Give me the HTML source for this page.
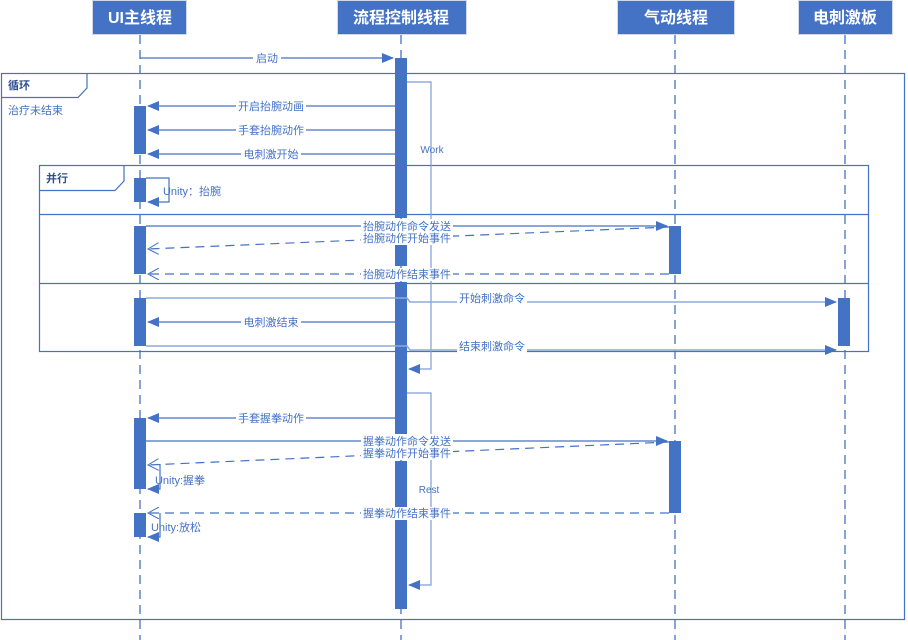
<!DOCTYPE html>
<html><head><meta charset="utf-8"><style>
html,body{margin:0;padding:0;background:#fff;}
svg{display:block;}
text{font-family:"Liberation Sans","Noto Sans CJK SC",sans-serif;}
</style></head><body>
<svg width="908" height="640" viewBox="0 0 908 640" xmlns="http://www.w3.org/2000/svg">
<defs>
<marker id="af" markerWidth="12" markerHeight="10" refX="11" refY="5" orient="auto" markerUnits="userSpaceOnUse"><path d="M0,0 L12,5 L0,10 Z" fill="#4472c4"/></marker>
<marker id="ao" markerWidth="12" markerHeight="12" refX="11" refY="6" orient="auto" markerUnits="userSpaceOnUse"><path d="M0,0 L11,6 L0,12" fill="none" stroke="#4472c4" stroke-width="1"/></marker>
</defs>
<g fill="#4472c4" stroke="#d0d8ea" stroke-width="1">
<rect x="92.5" y="0.5" width="94" height="34"/>
<rect x="337.5" y="0.5" width="129" height="34"/>
<rect x="617.5" y="0.5" width="117" height="34"/>
<rect x="798.5" y="0.5" width="94" height="34"/>
</g>
<g fill="#fff" font-size="16" font-weight="bold" text-anchor="middle">
<text x="140" y="23">UI主线程</text>
<text x="401" y="23">流程控制线程</text>
<text x="676" y="23">气动线程</text>
<text x="845" y="23">电刺激板</text>
</g>
<g stroke="#4472c4" stroke-width="1.3" stroke-dasharray="9,6">
<line x1="140" y1="35" x2="140" y2="640"/>
<line x1="401" y1="35" x2="401" y2="640"/>
<line x1="675" y1="35" x2="675" y2="640"/>
<line x1="845" y1="35" x2="845" y2="640"/>
</g>
<g fill="none" stroke="#4472c4" stroke-width="1.2">
<rect x="1.5" y="73.5" width="903" height="546"/>
<path d="M1.5,97.5 H78 L87,88 V73.5"/>
<rect x="39.5" y="165.5" width="829" height="186"/>
<path d="M39.5,190.5 H115 L124,181 V165.5"/>
<line x1="39.5" y1="214.5" x2="868.5" y2="214.5"/>
<line x1="39.5" y1="283.5" x2="868.5" y2="283.5"/>
</g>
<text x="8" y="89" font-size="11" font-weight="bold" fill="#2f4f8f">循环</text>
<text x="8" y="114" font-size="11" fill="#4472c4">治疗未结束</text>
<text x="46" y="182" font-size="11" font-weight="bold" fill="#2f4f8f">并行</text>
<g fill="#4472c4">
<rect x="395" y="58" width="12" height="160"/>
<rect x="395" y="245" width="12" height="21"/>
<rect x="395" y="282" width="12" height="158"/>
<rect x="395" y="461" width="12" height="46"/>
<rect x="395" y="520" width="12" height="89"/>
<rect x="134" y="106" width="12" height="48"/>
<rect x="134" y="178" width="12" height="24"/>
<rect x="134" y="226" width="12" height="48"/>
<rect x="134" y="298" width="12" height="48"/>
<rect x="134" y="418" width="12" height="71"/>
<rect x="134" y="513" width="12" height="24"/>
<rect x="669" y="226" width="12" height="48"/>
<rect x="669" y="441" width="12" height="72"/>
<rect x="838" y="298" width="12" height="48"/>
</g>
<g fill="none" stroke="#4472c4" stroke-width="1.2">
<path d="M407,82 H431 V369 H409" marker-end="url(#af)" stroke="#7f9dd6"/>
<path d="M407,393 H431 V585 H409" marker-end="url(#af)" stroke="#7f9dd6"/>
<line x1="140" y1="58" x2="393" y2="58" marker-end="url(#af)"/>
<line x1="395" y1="106" x2="148" y2="106" marker-end="url(#af)"/>
<line x1="395" y1="130" x2="148" y2="130" marker-end="url(#af)"/>
<line x1="395" y1="154" x2="148" y2="154" marker-end="url(#af)"/>
<path d="M146,178 H169 V202 H148" marker-end="url(#af)"/>
<line x1="146" y1="226" x2="667" y2="226" marker-end="url(#af)"/>
<line x1="669" y1="227" x2="148" y2="249" stroke-dasharray="9,6" marker-end="url(#ao)"/>
<line x1="669" y1="274" x2="148" y2="274" stroke-dasharray="9,6" marker-end="url(#ao)"/>
<path d="M146,298 H407 L410,302 H836" stroke="#8eaadb" stroke-width="1.6" marker-end="url(#af)"/>
<line x1="395" y1="322" x2="148" y2="322" marker-end="url(#af)"/>
<path d="M146,346 H407 L410,350 H836" stroke="#8eaadb" stroke-width="1.6" marker-end="url(#af)"/>
<line x1="395" y1="418" x2="148" y2="418" marker-end="url(#af)"/>
<line x1="146" y1="441" x2="667" y2="441" marker-end="url(#af)"/>
<line x1="669" y1="442" x2="148" y2="465" stroke-dasharray="9,6" marker-end="url(#ao)"/>
<path d="M160,464 V489 H148" marker-end="url(#af)"/>
<line x1="669" y1="513" x2="148" y2="513" stroke-dasharray="9,6" marker-end="url(#ao)"/>
<path d="M160,513 V537 H148" marker-end="url(#af)"/>
</g>
<g font-size="11" fill="#4472c4" text-anchor="middle">
<g fill="#fff"><rect x="253" y="52" width="28" height="13"/><rect x="236" y="100" width="70" height="13"/><rect x="236" y="124" width="70" height="13"/><rect x="241" y="148" width="60" height="13"/>
<rect x="361" y="219" width="92" height="13"/><rect x="361" y="232" width="92" height="13"/><rect x="361" y="268" width="92" height="13"/><rect x="457" y="292" width="70" height="13"/><rect x="241" y="316" width="60" height="13"/><rect x="457" y="340" width="70" height="13"/><rect x="236" y="412" width="70" height="13"/><rect x="361" y="434" width="92" height="13"/><rect x="361" y="447" width="92" height="13"/><rect x="361" y="507" width="92" height="13"/></g>
<text x="267" y="62">启动</text>
<text x="271" y="110">开启抬腕动画</text>
<text x="271" y="134">手套抬腕动作</text>
<text x="271" y="158">电刺激开始</text>
<text x="432" y="153" font-size="10">Work</text>
<text x="192" y="195">Unity：抬腕</text>
<text x="407" y="230">抬腕动作命令发送</text>
<text x="407" y="242">抬腕动作开始事件</text>
<text x="407" y="278">抬腕动作结束事件</text>
<text x="492" y="302">开始刺激命令</text>
<text x="271" y="326">电刺激结束</text>
<text x="492" y="350">结束刺激命令</text>
<text x="271" y="422">手套握拳动作</text>
<text x="407" y="445">握拳动作命令发送</text>
<text x="407" y="457">握拳动作开始事件</text>
<text x="180" y="484">Unity:握拳</text>
<text x="429" y="493" font-size="10">Rest</text>
<text x="407" y="517">握拳动作结束事件</text>
<text x="176" y="531">Unity:放松</text>
</g>
</svg>
</body></html>
